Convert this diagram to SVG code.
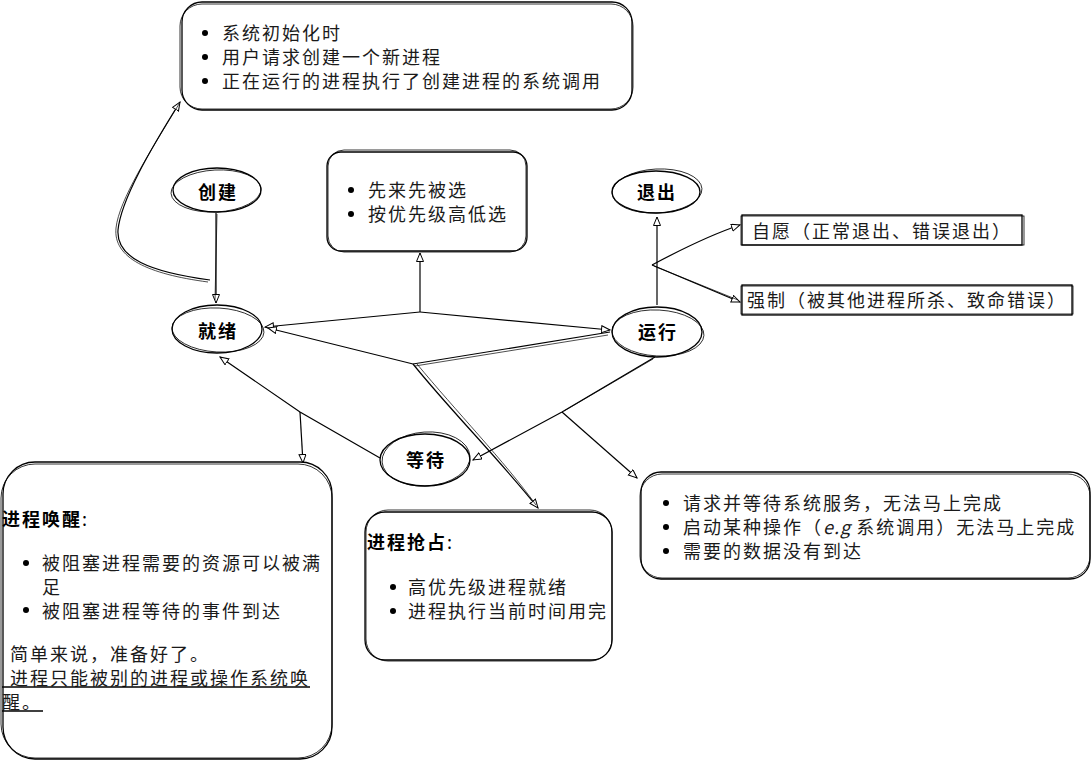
<svg xmlns="http://www.w3.org/2000/svg" width="1091" height="761" viewBox="0 0 1091 761">
<style>
text{font-family:"Noto Sans CJK SC","Noto Sans",sans-serif;font-size:18px;letter-spacing:2px;fill:#1a1a1a}
.lbl{font-weight:bold;text-anchor:middle;fill:#000}
.ttl{font-weight:bold;fill:#000}
.box{fill:#fff;stroke:#000;stroke-width:1.3}
.box2{fill:none;stroke:#000;stroke-width:0.8}
.el{fill:#fff;stroke:#000;stroke-width:1.3}
.el2{fill:none;stroke:#000;stroke-width:0.8}
.c{fill:none;stroke:#000;stroke-width:1.2}
.c2{fill:none;stroke:#000;stroke-width:0.7}
.ul{stroke:#000;stroke-width:1.5}
</style>
<defs>
<marker id="ah" markerWidth="12" markerHeight="10" refX="9" refY="4" orient="auto" markerUnits="userSpaceOnUse">
<path d="M0.5,0.5 L9,4 L0.5,7.5 Z" fill="#fff" stroke="#000" stroke-width="1"/>
</marker>
</defs>
<rect width="1091" height="761" fill="#fff"/>

<g id="connectors">
<path class="c" d="M216,213 L216,303" marker-end="url(#ah)"/>
<path class="c2" d="M217,214 L215,300"/>
<path class="c" d="M210,280 C150,272 116,258 118,230 C121,200 150,150 180,102" marker-end="url(#ah)"/>
<path class="c2" d="M208,282 C148,274 113,258 116,228 C119,200 150,152 179,104"/>
<path class="c" d="M420,312 L265,327" marker-end="url(#ah)"/>
<path class="c" d="M420,312 L610,330" marker-end="url(#ah)"/>
<path class="c" d="M420,312 L420,253" marker-end="url(#ah)"/>
<path class="c" d="M610,332 L413,364 L268,328" marker-end="url(#ah)"/>
<path class="c2" d="M608,335 L415,366"/>
<path class="c" d="M413,364 C450,410 500,460 538,508" marker-end="url(#ah)"/>
<path class="c2" d="M417,364 C455,410 505,462 536,505"/>
<path class="c" d="M655,357 L562,412 L473,460" marker-end="url(#ah)"/>
<path class="c2" d="M653,359 L564,411"/>
<path class="c" d="M562,412 L637,478" marker-end="url(#ah)"/>
<path class="c" d="M380,458 L300,412 L220,357" marker-end="url(#ah)"/>
<path class="c" d="M300,412 L303,463" marker-end="url(#ah)"/>
<path class="c" d="M657,305 L657,217" marker-end="url(#ah)"/>
<path class="c" d="M652,265 C680,250 710,235 740,225" marker-end="url(#ah)"/>
<path class="c" d="M652,265 L740,302" marker-end="url(#ah)"/>
<path class="c2" d="M654,266 L738,300"/>
</g>

<g id="top-box">
<rect class="box" x="182" y="2" width="450" height="108" rx="20"/>
<rect class="box2" x="180" y="4" width="453" height="105" rx="22"/>
<circle cx="205" cy="33" r="3"/><circle cx="205" cy="57" r="3"/><circle cx="205" cy="81" r="3"/>
<text x="222" y="40">系统初始化时</text>
<text x="222" y="64">用户请求创建一个新进程</text>
<text x="222" y="88">正在运行的进程执行了创建进程的系统调用</text>
</g>

<g id="mid-box">
<rect class="box" x="327" y="152" width="200" height="99" rx="14"/>
<rect class="box2" x="328" y="150" width="198" height="102" rx="16"/>
<circle cx="351" cy="190" r="3"/><circle cx="351" cy="214" r="3"/>
<text x="368" y="197">先来先被选</text>
<text x="368" y="221">按优先级高低选</text>
</g>

<g id="n-create">
<ellipse class="el" cx="217" cy="190" rx="44" ry="22"/>
<ellipse class="el2" cx="216" cy="191" rx="45" ry="21" transform="rotate(-3 216 191)"/>
<text class="lbl" x="218" y="199">创建</text>
</g>

<g id="n-ready">
<ellipse class="el" cx="217" cy="329" rx="45" ry="24"/>
<ellipse class="el2" cx="218" cy="330" rx="46" ry="22" transform="rotate(3 218 330)"/>
<text class="lbl" x="218" y="338">就绪</text>
</g>

<g id="n-exit">
<ellipse class="el" cx="656" cy="192" rx="44" ry="21"/>
<ellipse class="el2" cx="657" cy="191" rx="45" ry="22" transform="rotate(-3 657 191)"/>
<text class="lbl" x="657" y="199">退出</text>
</g>

<g id="n-run">
<ellipse class="el" cx="657" cy="332" rx="45" ry="25"/>
<ellipse class="el2" cx="658" cy="333" rx="46" ry="23" transform="rotate(3 658 333)"/>
<text class="lbl" x="658" y="339">运行</text>
</g>

<g id="n-wait">
<ellipse class="el" cx="425" cy="460" rx="45" ry="26"/>
<ellipse class="el2" cx="426" cy="459" rx="44" ry="27" transform="rotate(-4 426 459)"/>
<text class="lbl" x="426" y="467">等待</text>
</g>

<g id="vol-box">
<rect class="box" x="742" y="215" width="280" height="30"/>
<rect class="box2" x="741" y="216" width="283" height="29"/>
<text x="752" y="238">自愿（正常退出、错误退出）</text>
</g>

<g id="force-box">
<rect class="box" x="742" y="285" width="330" height="30"/>
<rect class="box2" x="741" y="286" width="332" height="28"/>
<text x="747" y="307">强制（被其他进程所杀、致命错误）</text>
</g>

<g id="block-box">
<rect class="box" x="641" y="472" width="449" height="107" rx="20"/>
<rect class="box2" x="640" y="474" width="450" height="104" rx="22"/>
<circle cx="666" cy="503" r="3"/><circle cx="666" cy="527" r="3"/><circle cx="666" cy="551" r="3"/>
<text x="683" y="510">请求并等待系统服务，无法马上完成</text>
<text x="683" y="534">启动某种操作（<tspan font-style="italic" letter-spacing="1">e.g&#160;</tspan>系统调用）无法马上完成</text>
<text x="683" y="558">需要的数据没有到达</text>
</g>

<g id="preempt-box">
<rect class="box" x="365" y="512" width="247" height="148" rx="20"/>
<rect class="box2" x="366" y="510" width="246" height="151" rx="22"/>
<text class="ttl" x="367" y="549">进程抢占<tspan font-weight="normal" letter-spacing="0">:</tspan></text>
<circle cx="393" cy="587" r="3"/><circle cx="393" cy="611" r="3"/>
<text x="408" y="594">高优先级进程就绪</text>
<text x="408" y="618">进程执行当前时间用完</text>
</g>

<g id="wake-box">
<rect class="box" x="3" y="462" width="329" height="297" rx="32"/>
<rect class="box2" x="1" y="464" width="331" height="294" rx="34"/>
<text class="ttl" x="2" y="526">进程唤醒<tspan font-weight="normal" letter-spacing="0">:</tspan></text>
<circle cx="26" cy="563" r="3"/><circle cx="26" cy="610" r="3"/>
<text x="42" y="570">被阻塞进程需要的资源可以被满</text>
<text x="42" y="594">足</text>
<text x="42" y="618">被阻塞进程等待的事件到达</text>
<text x="10" y="661">简单来说，准备好了。</text>
<text x="10" y="685">进程只能被别的进程或操作系统唤</text>
<line class="ul" x1="2" y1="687" x2="310" y2="687"/>
<text x="2" y="709">醒。</text>
<line class="ul" x1="2" y1="711" x2="43" y2="711"/>
</g>
</svg>
